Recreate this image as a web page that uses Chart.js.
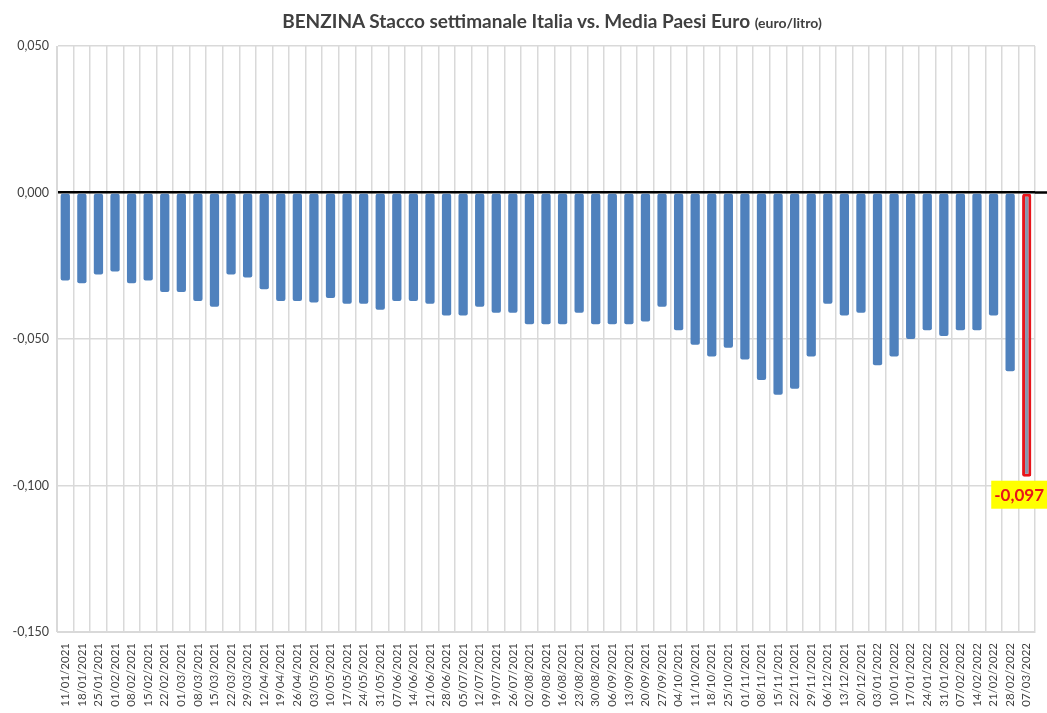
<!DOCTYPE html>
<html>
<head>
<meta charset="utf-8">
<script src="https://cdn.jsdelivr.net/npm/chart.js@4"></script>
<style>
  body { margin: 0; background: #fff; }
  #wrap { position: relative; width: 1047px; height: 713px; }
  #title {
    position: absolute; top: 9px; left: 57px; right: 0;
    text-align: center; font-family: Lato, sans-serif; font-weight: bold;
    font-size: 19px; color: #404040;
  }
  #title small { font-size: 14px; }
</style>
</head>
<body>
<div id="wrap">
  <div id="title">BENZINA Stacco settimanale Italia vs. Media Paesi Euro <small>(euro/litro)</small></div>
  <canvas id="chart" width="1047" height="713"></canvas>
</div>
<script>
const weeks = [
  "11/01/2021", "18/01/2021", "25/01/2021", "01/02/2021", "08/02/2021", "15/02/2021", "22/02/2021",
  "01/03/2021", "08/03/2021", "15/03/2021", "22/03/2021", "29/03/2021", "12/04/2021", "19/04/2021",
  "26/04/2021", "03/05/2021", "10/05/2021", "17/05/2021", "24/05/2021", "31/05/2021", "07/06/2021",
  "14/06/2021", "21/06/2021", "28/06/2021", "05/07/2021", "12/07/2021", "19/07/2021", "26/07/2021",
  "02/08/2021", "09/08/2021", "16/08/2021", "23/08/2021", "30/08/2021", "06/09/2021", "13/09/2021",
  "20/09/2021", "27/09/2021", "04/10/2021", "11/10/2021", "18/10/2021", "25/10/2021", "01/11/2021",
  "08/11/2021", "15/11/2021", "22/11/2021", "29/11/2021", "06/12/2021", "13/12/2021", "20/12/2021",
  "03/01/2022", "10/01/2022", "17/01/2022", "24/01/2022", "31/01/2022", "07/02/2022", "14/02/2022",
  "21/02/2022", "28/02/2022", "07/03/2022"
];

const stacco = [
  -0.030, -0.031, -0.028, -0.027, -0.031, -0.030, -0.034,
  -0.034, -0.037, -0.039, -0.028, -0.029, -0.033, -0.037,
  -0.037, -0.0375, -0.036, -0.038, -0.038, -0.040, -0.037,
  -0.037, -0.038, -0.042, -0.042, -0.039, -0.041, -0.041,
  -0.045, -0.045, -0.045, -0.041, -0.045, -0.045, -0.045,
  -0.044, -0.039, -0.047, -0.052, -0.056, -0.053, -0.057,
  -0.064, -0.069, -0.067, -0.056, -0.038, -0.042, -0.041,
  -0.059, -0.056, -0.050, -0.047, -0.049, -0.047, -0.047,
  -0.042, -0.061, -0.097
];

const yTicks = [0.05, 0, -0.05, -0.1, -0.15];

// the last week is highlighted in red with a yellow value label
const lastIdx = stacco.length - 1;

function fmt(v) {
  if (Math.abs(v) < 1e-9) v = 0;
  return v.toFixed(3).replace(".", ",");
}

const labelPlugin = {
  id: "lastLabel",
  afterDatasetsDraw(chart) {
    const ctx = chart.ctx;
    // zero line runs on past the last gridline, as in the original
    const y0 = chart.scales.y.getPixelForValue(0);
    ctx.save();
    ctx.strokeStyle = "#000";
    ctx.lineWidth = 2.5;
    ctx.beginPath();
    ctx.moveTo(chart.chartArea.right, y0);
    ctx.lineTo(chart.width, y0);
    ctx.stroke();

    const bar = chart.getDatasetMeta(0).data[lastIdx];
    const text = fmt(stacco[lastIdx]);
    ctx.font = "bold 17px Lato, sans-serif";
    const w = ctx.measureText(text).width + 6;
    const h = 28;
    let x = bar.x - w / 2;
    if (x + w > chart.width) x = chart.width - w;
    const y = bar.y + 4;
    ctx.fillStyle = "#ffff00";
    ctx.fillRect(x, y, w, h);
    ctx.fillStyle = "#e8141b";
    ctx.textAlign = "center";
    ctx.textBaseline = "middle";
    ctx.fillText(text, x + w / 2, y + h / 2 + 1);
    ctx.restore();
  },
};

new Chart(document.getElementById("chart"), {
  type: "bar",
  data: {
    labels: weeks,
    datasets: [
      {
        data: stacco,
        backgroundColor: stacco.map((v, i) => (i === lastIdx ? "#8796ad" : "#4f81bd")),
        borderColor: stacco.map((v, i) => (i === lastIdx ? "#e8141b" : "#4f81bd")),
        borderWidth: stacco.map((v, i) => (i === lastIdx ? 3 : 0)),
        borderRadius: 2,
        borderSkipped: false,
        barPercentage: 0.56,
        categoryPercentage: 1,
      },
    ],
  },
  options: {
    responsive: false,
    animation: false,
    layout: { padding: { top: 46, right: 12, bottom: 4, left: 8 } },
    plugins: { legend: { display: false }, tooltip: { enabled: false } },
    scales: {
      x: {
        afterFit: (scale) => {
          scale.height = 77;
          scale.paddingLeft = 0;
          scale.paddingRight = 0;
        },
        grid: { color: "#d9d9d9", lineWidth: 1.5, offset: true, drawTicks: false },
        border: { color: "#d9d9d9" },
        ticks: {
          autoSkip: false,
          minRotation: 90,
          maxRotation: 90,
          padding: 11,
          color: "#404040",
          font: { family: "Lato, sans-serif", size: 11.5 },
        },
      },
      y: {
        min: -0.15,
        max: 0.05,
        afterFit: (scale) => {
          scale.width = 49;
        },
        afterBuildTicks: (axis) => {
          axis.ticks = yTicks.map((v) => ({ value: v }));
        },
        grid: {
          drawTicks: false,
          color: (c) => (c.tick && Math.abs(c.tick.value) < 1e-9 ? "#000" : "#d9d9d9"),
          lineWidth: (c) => (c.tick && Math.abs(c.tick.value) < 1e-9 ? 2.5 : 1.5),
        },
        border: { color: "#d9d9d9" },
        ticks: {
          padding: 8,
          color: "#404040",
          font: { family: "Lato, sans-serif", size: 12.5 },
          callback: (v) => fmt(v),
        },
      },
    },
  },
  plugins: [labelPlugin],
});
</script>
</body>
</html>
